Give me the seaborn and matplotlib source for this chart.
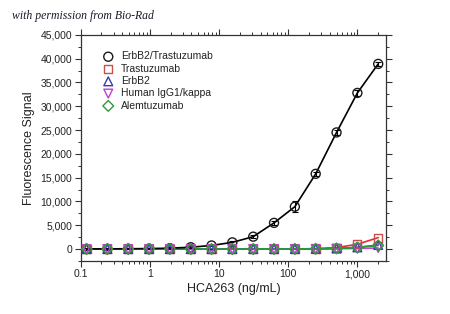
import matplotlib
matplotlib.use("Agg")
import matplotlib.pyplot as plt
import matplotlib.ticker as mticker
import seaborn as sns
import pandas as pd
import numpy as np

# ---- data ----
conc = [0.122, 0.244, 0.488, 0.977, 1.95, 3.91, 7.81, 15.6, 31.25, 62.5, 125, 250, 500, 1000, 2000]
erbb2_trastuzumab = [30, 40, 60, 100, 180, 380, 750, 1400, 2600, 5500, 8900, 15800, 24500, 32800, 38900]
erbb2_trastuzumab_err = [150, 150, 150, 150, 150, 200, 200, 250, 300, 350, 1100, 400, 500, 600, 500]
trastuzumab = [0, 0, 0, 0, 0, 0, 0, 0, 0, 0, 20, 80, 300, 1000, 2400]
erbb2 = [0, 0, 0, 0, 0, 0, 0, 0, 0, 0, 10, 40, 120, 350, 850]
human_igg1 = [0, 0, 0, 0, 0, 0, 0, 0, 0, 0, 0, 20, 60, 120, 220]
alemtuzumab = [0, 0, 0, 0, 0, 0, 0, 0, 0, 0, 10, 40, 130, 330, 750]

series_names = ["ErbB2/Trastuzumab", "Trastuzumab", "ErbB2", "Human IgG1/kappa", "Alemtuzumab"]
series_vals = [erbb2_trastuzumab, trastuzumab, erbb2, human_igg1, alemtuzumab]
edge_colors = ["#1a1a1a", "#c8504a", "#3a3aa8", "#c040c8", "#2e9a3a"]
line_colors = ["#000000", "#e03030", "#1a6a8a", "#d040d0", "#2a9a3a"]
markers = ["o", "s", "^", "v", "D"]
msizes = [42, 34, 40, 40, 30]

df = pd.concat([pd.DataFrame({"conc": conc, "signal": v, "series": n})
                for n, v in zip(series_names, series_vals)], ignore_index=True)

sns.set_style("ticks")
plt.rcParams["font.family"] = ["Liberation Sans", "DejaVu Sans"]

fig = plt.figure(figsize=(4.5, 3.14), dpi=100)
ax = fig.add_axes([0.179, 0.169, 0.679, 0.720])

# lines
line_order = ["Trastuzumab", "Human IgG1/kappa", "ErbB2", "Alemtuzumab", "ErbB2/Trastuzumab"]
for name in line_order:
    i = series_names.index(name)
    sub = df[df["series"] == name]
    sns.lineplot(data=sub, x="conc", y="signal", color=line_colors[i], lw=1.2,
                 ax=ax, legend=False, zorder=2 if name != "ErbB2/Trastuzumab" else 3)

# error bars for the positive series
ax.errorbar(conc, erbb2_trastuzumab, yerr=erbb2_trastuzumab_err, fmt="none",
            ecolor="#000000", elinewidth=0.8, capsize=2, capthick=0.8, zorder=4)

# markers
for i, name in enumerate(series_names):
    sub = df[df["series"] == name]
    sns.scatterplot(data=sub, x="conc", y="signal", marker=markers[i], s=msizes[i],
                    facecolor="none", edgecolor=edge_colors[i], linewidth=1.0,
                    ax=ax, label=name, zorder=5)

ax.set_xscale("log")
ax.set_xlim(0.1, 2600)
ax.set_ylim(-2500, 45000)

ax.yaxis.set_major_locator(mticker.MultipleLocator(5000))
ax.yaxis.set_minor_locator(mticker.MultipleLocator(2500))
ax.yaxis.set_major_formatter(mticker.FuncFormatter(lambda v, p: f"{int(v):,}"))
ax.xaxis.set_major_locator(mticker.FixedLocator([0.1, 1, 10, 100, 1000]))
ax.xaxis.set_major_formatter(mticker.FixedFormatter(["0.1", "1", "10", "100", "1,000"]))
ax.xaxis.set_minor_locator(mticker.LogLocator(base=10, subs=np.arange(2, 10)))
ax.xaxis.set_minor_formatter(mticker.NullFormatter())

ax.tick_params(which="both", direction="out", top=True, right=True,
               labeltop=False, labelright=False, colors="#333333", labelcolor="#222222")
ax.tick_params(which="major", length=4, width=0.8, labelsize=7.5, pad=2)
ax.tick_params(which="minor", length=2.5, width=0.7)
for s in ax.spines.values():
    s.set_visible(True)
    s.set_color("#333333")
    s.set_linewidth(0.9)

ax.set_xlabel("HCA263 (ng/mL)", fontsize=9, color="#222222", labelpad=3)
ax.set_ylabel("Fluorescence Signal", fontsize=9, color="#222222", labelpad=4)

leg = ax.legend(loc="upper left", bbox_to_anchor=(0.06, 0.945), frameon=False,
                fontsize=7.5, handletextpad=0.7, labelspacing=0.22,
                handlelength=1.0, borderaxespad=0)
for t in leg.get_texts():
    t.set_color("#222222")

fig.text(0.027, 0.95, "with permission from Bio-Rad", fontsize=8.5,
         family=["Liberation Serif", "DejaVu Serif"], style="italic",
         color="#1a1a2a", ha="left", va="center")

fig.savefig("out.png", dpi=100, facecolor="white")
